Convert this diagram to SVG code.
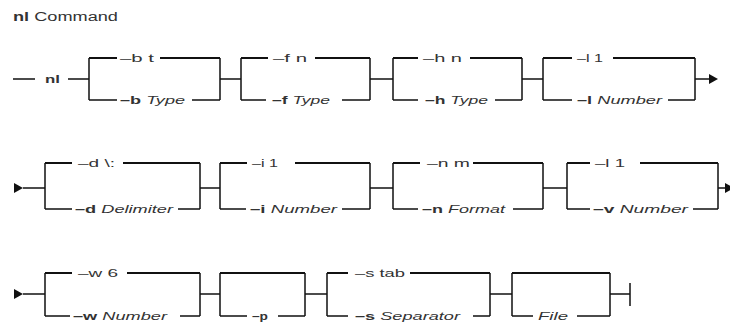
<svg xmlns="http://www.w3.org/2000/svg" width="730" height="325" viewBox="0 0 730 325">
<style>
text{font-family:"Liberation Sans",Arial,sans-serif;font-size:11px;fill:#333}
.b{font-weight:bold}
.i{font-style:italic}
.t{font-size:12px}
.ln{fill:none;stroke:#111;stroke-width:1.5}
.tp{fill:none;stroke:#111;stroke-width:2.2}
.ah{fill:#111}
</style>
<defs>
<polygon id="arr" class="ah" points="0,-5 9,0 0,5"/>
</defs>
<rect width="730" height="325" fill="#fff"/>
<g id="connectors">
<!-- row 1 -->
<path class="ln" d="M13 79H35M68 79H89"/>
<path class="ln" d="M89 58V100M220 58V100M89 100H117M192 100H220"/>
<path class="tp" d="M89 58H117M160 58H220"/>
<path class="ln" d="M220 79H241"/>
<path class="ln" d="M241 58V100M370 58V100M241 100H266M342 100H370"/>
<path class="tp" d="M241 58H268M315 58H370"/>
<path class="ln" d="M370 79H393"/>
<path class="ln" d="M393 58V100M522 58V100M393 100H418M495 100H522"/>
<path class="tp" d="M393 58H418M470 58H522"/>
<path class="ln" d="M522 79H543"/>
<path class="ln" d="M543 58V100M695 58V100M543 100H572M668 100H695"/>
<path class="tp" d="M543 58H572M613 58H695"/>
<path class="ln" d="M695 79H710"/>
<use href="#arr" x="709" y="79"/>
<!-- row 2 -->
<use href="#arr" x="14" y="188"/>
<path class="ln" d="M23 188H45"/>
<path class="ln" d="M45 163V209M200 163V209M45 209H72M178 209H200"/>
<path class="tp" d="M45 163H72M123 163H200"/>
<path class="ln" d="M200 188H220"/>
<path class="ln" d="M220 163V209M370 163V209M220 209H246M342 209H370"/>
<path class="tp" d="M220 163H247M295 163H370"/>
<path class="ln" d="M370 188H393"/>
<path class="ln" d="M393 163V209M543 163V209M393 209H418M513 209H543"/>
<path class="tp" d="M393 163H420M473 163H543"/>
<path class="ln" d="M543 188H567"/>
<path class="ln" d="M567 163V209M718 163V209M567 209H590M693 209H718"/>
<path class="tp" d="M567 163H590M640 163H718"/>
<path class="ln" d="M718 188H726"/>
<use href="#arr" x="725" y="188"/>
<!-- row 3 -->
<use href="#arr" x="14" y="294"/>
<path class="ln" d="M23 294H45"/>
<path class="ln" d="M45 273V316M200 273V316M45 316H70M180 316H200"/>
<path class="tp" d="M45 273H72M127 273H200"/>
<path class="ln" d="M200 294H220"/>
<path class="ln" d="M220 273V316M305 273V316M220 316H247M278 316H305"/>
<path class="tp" d="M220 273H305"/>
<path class="ln" d="M305 294H327"/>
<path class="ln" d="M327 273V316M490 273V316M327 316H348M473 316H490"/>
<path class="tp" d="M327 273H348M410 273H490"/>
<path class="ln" d="M490 294H512"/>
<path class="ln" d="M512 273V316M610 273V316M512 316H533M577 316H610"/>
<path class="tp" d="M512 273H610"/>
<path class="ln" d="M610 294H630M630 283V306"/>
</g>
<g id="title"><text class="t" x="13" y="21" textLength="105" lengthAdjust="spacingAndGlyphs"><tspan class="b">nl</tspan> Command</text></g>
<g id="cmd-nl"><text class="b" x="45" y="83" textLength="15" lengthAdjust="spacingAndGlyphs">nl</text></g>
<g id="opt-b-t"><text x="120" y="62" textLength="34" lengthAdjust="spacingAndGlyphs">–b t</text></g>
<g id="opt-b-type"><text x="120" y="104" textLength="65" lengthAdjust="spacingAndGlyphs"><tspan class="b">–b</tspan> <tspan class="i">Type</tspan></text></g>
<g id="opt-f-n"><text x="273" y="62" textLength="34" lengthAdjust="spacingAndGlyphs">–f n</text></g>
<g id="opt-f-type"><text x="272" y="104" textLength="58" lengthAdjust="spacingAndGlyphs"><tspan class="b">–f</tspan> <tspan class="i">Type</tspan></text></g>
<g id="opt-h-n"><text x="423" y="62" textLength="39" lengthAdjust="spacingAndGlyphs">–h n</text></g>
<g id="opt-h-type"><text x="425" y="104" textLength="63" lengthAdjust="spacingAndGlyphs"><tspan class="b">–h</tspan> <tspan class="i">Type</tspan></text></g>
<g id="opt-l-1a"><text x="577" y="62" textLength="26" lengthAdjust="spacingAndGlyphs">–l 1</text></g>
<g id="opt-l-number-a"><text x="577" y="104" textLength="85" lengthAdjust="spacingAndGlyphs"><tspan class="b">–l</tspan> <tspan class="i">Number</tspan></text></g>
<g id="opt-d-default"><text x="78" y="167" textLength="37" lengthAdjust="spacingAndGlyphs">–d \:</text></g>
<g id="opt-d-delimiter"><text x="75" y="213" textLength="98" lengthAdjust="spacingAndGlyphs"><tspan class="b">–d</tspan> <tspan class="i">Delimiter</tspan></text></g>
<g id="opt-i-1"><text x="252" y="167" textLength="26" lengthAdjust="spacingAndGlyphs">–i 1</text></g>
<g id="opt-i-number"><text x="250" y="213" textLength="87" lengthAdjust="spacingAndGlyphs"><tspan class="b">–i</tspan> <tspan class="i">Number</tspan></text></g>
<g id="opt-n-m"><text x="427" y="167" textLength="43" lengthAdjust="spacingAndGlyphs">–n m</text></g>
<g id="opt-n-format"><text x="422" y="213" textLength="83" lengthAdjust="spacingAndGlyphs"><tspan class="b">–n</tspan> <tspan class="i">Format</tspan></text></g>
<g id="opt-l-1b"><text x="595" y="167" textLength="30" lengthAdjust="spacingAndGlyphs">–l 1</text></g>
<g id="opt-v-number"><text x="593" y="213" textLength="95" lengthAdjust="spacingAndGlyphs"><tspan class="b">–v</tspan> <tspan class="i">Number</tspan></text></g>
<g id="opt-w-6"><text x="78" y="277" textLength="40" lengthAdjust="spacingAndGlyphs">–w 6</text></g>
<g id="opt-w-number"><text x="73" y="320" textLength="94" lengthAdjust="spacingAndGlyphs"><tspan class="b">–w</tspan> <tspan class="i">Number</tspan></text></g>
<g id="opt-p"><text class="b" x="252" y="320" textLength="16" lengthAdjust="spacingAndGlyphs">–p</text></g>
<g id="opt-s-tab"><text x="355" y="277" textLength="50" lengthAdjust="spacingAndGlyphs">–s tab</text></g>
<g id="opt-s-separator"><text x="355" y="320" textLength="105" lengthAdjust="spacingAndGlyphs"><tspan class="b">–s</tspan> <tspan class="i">Separator</tspan></text></g>
<g id="opt-file"><text class="i" x="538" y="320" textLength="30" lengthAdjust="spacingAndGlyphs">File</text></g>
</svg>
